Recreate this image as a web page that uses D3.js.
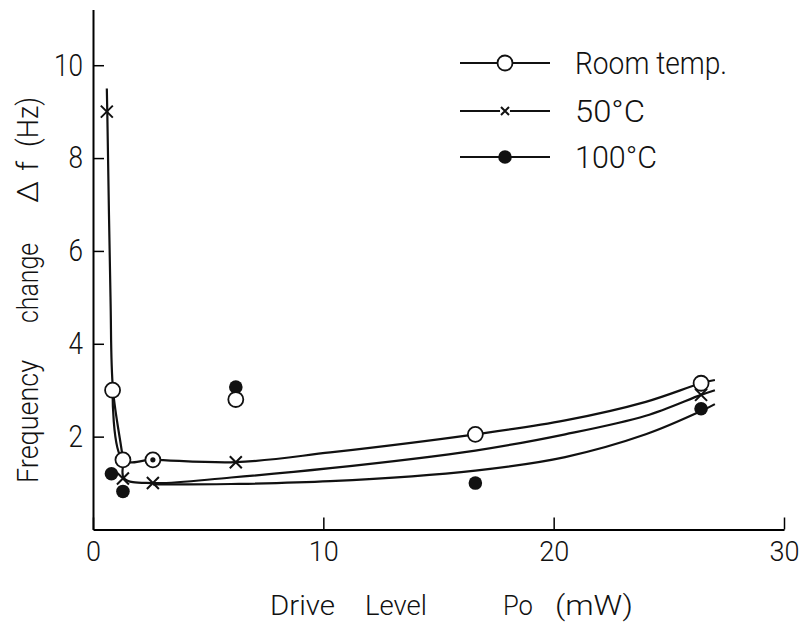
<!DOCTYPE html>
<html>
<head>
<meta charset="utf-8">
<script src="https://cdn.jsdelivr.net/npm/d3@7"></script>
<style>
  body { margin: 0; background: #fff; }
  text { font-family: Roboto, "Liberation Sans", Arial, sans-serif; font-weight: 300; fill: #111; }
</style>
</head>
<body>
<div id="chart"></div>
<script>
// measured points (Po in mW, delta f in Hz)
var roomPts = [[0.85, 3.0], [1.3, 1.5], [2.6, 1.5], [6.2, 2.8], [16.6, 2.05], [26.4, 3.15]];
var c50Pts = [[0.6, 9.0], [1.3, 1.1], [2.6, 1.0], [6.2, 1.45], [26.4, 2.9]];
var c100Pts = [[0.8, 1.2], [1.3, 0.82], [6.2, 3.07], [16.6, 1.0], [26.4, 2.6]];
// 100C point hidden inside the room temp. circle
var coincident = [[2.6, 1.5]];

// hand drawn fit curves
var roomCurve = [[0.85, 3.0], [1.3, 1.5], [2.6, 1.5], [6.2, 1.45], [10.3, 1.66], [16.6, 2.05], [20.5, 2.35], [24, 2.75], [26.4, 3.15], [27, 3.22]];
var c50Curve = [[0.6, 9.5], [0.62, 9.0], [0.76, 5.0], [0.87, 3.0], [1.3, 1.5], [1.35, 1.1], [2.6, 1.0], [6, 1.12], [10.3, 1.32], [16.6, 1.7], [20.5, 2.05], [24, 2.45], [26.4, 2.9], [27, 3.0]];
var c100Curve = [[2.6, 0.97], [6, 0.98], [10.3, 1.04], [16.6, 1.27], [20.5, 1.56], [24, 2.05], [26.4, 2.55], [27, 2.7]];

var xTicks = [0, 10, 20, 30];
var yTicks = [2, 4, 6, 8, 10];
var legendNames = ["Room temp.", "50°C", "100°C"];

var width = 805, height = 631;

var svg = d3.select("#chart")
  .append("svg")
    .attr("width", width)
    .attr("height", height);

var x = d3.scaleLinear()
  .domain([0, 30])
  .range([93, 784]);

var y = d3.scaleLinear()
  .domain([0, 11.2])
  .range([529.5, 9.5]);

// Y axis (ticks point inwards)
var yAxis = svg.append("g")
  .attr("transform", "translate(" + x(0) + ",0)")
  .call(d3.axisLeft(y).tickValues(yTicks).tickSizeInner(-11).tickSizeOuter(0).tickPadding(10));
yAxis.select(".domain").attr("stroke-width", 2);
yAxis.selectAll(".tick line").attr("stroke-width", 1.5);
yAxis.selectAll("text")
  .style("font-size", "31px")
  .attr("fill", "#111")
  .attr("textLength", function(d) { return String(d).length * 14.5; })
  .attr("lengthAdjust", "spacingAndGlyphs");

// X axis
var xAxis = svg.append("g")
  .attr("transform", "translate(0," + y(0) + ")")
  .call(d3.axisBottom(x).tickValues(xTicks).tickSizeInner(-12).tickSizeOuter(0).tickPadding(12));
xAxis.select(".domain").attr("stroke-width", 2);
xAxis.selectAll(".tick line").attr("stroke-width", 1.5);
xAxis.selectAll("text")
  .style("font-size", "27px")
  .attr("fill", "#111")
  .attr("textLength", function(d) { return String(d).length * 15; })
  .attr("lengthAdjust", "spacingAndGlyphs");

// curves
var line = d3.line()
  .x(function(d) { return x(d[0]); })
  .y(function(d) { return y(d[1]); })
  .curve(d3.curveCatmullRom.alpha(0.5));

svg.selectAll(".curve")
  .data([roomCurve, c50Curve, c100Curve])
  .enter()
  .append("path")
    .attr("class", "curve")
    .attr("d", line)
    .attr("fill", "none")
    .attr("stroke", "#111")
    .attr("stroke-width", 2.2);

// markers
function cross(sel, s) {
  sel.append("path")
    .attr("d", "M" + (-s) + "," + (-s) + "L" + s + "," + s + "M" + (-s) + "," + s + "L" + s + "," + (-s))
    .attr("stroke", "#111")
    .attr("stroke-width", 2)
    .attr("fill", "none");
}

svg.selectAll(".p50")
  .data(c50Pts)
  .enter()
  .append("g")
    .attr("class", "p50")
    .attr("transform", function(d) { return "translate(" + x(d[0]) + "," + y(d[1]) + ")"; })
    .each(function() { cross(d3.select(this), 6); });

svg.selectAll(".p100")
  .data(c100Pts)
  .enter()
  .append("circle")
    .attr("cx", function(d) { return x(d[0]); })
    .attr("cy", function(d) { return y(d[1]); })
    .attr("r", 6.8)
    .attr("fill", "#111");

svg.selectAll(".proom")
  .data(roomPts)
  .enter()
  .append("circle")
    .attr("cx", function(d) { return x(d[0]); })
    .attr("cy", function(d) { return y(d[1]); })
    .attr("r", 7.5)
    .attr("fill", "#fff")
    .attr("stroke", "#111")
    .attr("stroke-width", 1.8);

svg.selectAll(".pco")
  .data(coincident)
  .enter()
  .append("circle")
    .attr("cx", function(d) { return x(d[0]); })
    .attr("cy", function(d) { return y(d[1]); })
    .attr("r", 2.6)
    .attr("fill", "#111");

// legend
var legendW = [152, 70, 82];
var legend = svg.selectAll(".legend")
  .data(legendNames)
  .enter()
  .append("g")
    .attr("class", "legend")
    .attr("transform", function(d, i) { return "translate(460," + [63, 111, 157][i] + ")"; });

legend.append("line")
  .attr("x1", 0).attr("x2", 90)
  .attr("stroke", "#111")
  .attr("stroke-width", 2);

legend.each(function(d, i) {
  var g = d3.select(this);
  if (i == 0) {
    g.append("circle").attr("cx", 45).attr("r", 7.5).attr("fill", "#fff").attr("stroke", "#111").attr("stroke-width", 1.8);
  } else if (i == 1) {
    var m = g.append("g").attr("transform", "translate(45,0)");
    m.append("rect").attr("x", -5).attr("y", -5).attr("width", 10).attr("height", 10).attr("fill", "#fff");
    cross(m, 4);
  } else {
    g.append("circle").attr("cx", 45).attr("r", 6.8).attr("fill", "#111");
  }
});

legend.append("text")
  .attr("x", 115)
  .attr("dy", "0.36em")
  .style("font-size", "31px")
  .attr("textLength", function(d, i) { return legendW[i]; })
  .attr("lengthAdjust", "spacingAndGlyphs")
  .text(function(d) { return d; });

// axis titles: [text, start, length]
var xTitle = [["Drive", 270, 65], ["Level", 365, 62], ["Po", 503, 30], ["(mW)", 555, 78]];
svg.selectAll(".xtitle")
  .data(xTitle)
  .enter()
  .append("text")
    .attr("x", function(d) { return d[1]; })
    .attr("y", 615)
    .style("font-size", "27px")
    .attr("textLength", function(d) { return d[2]; })
    .attr("lengthAdjust", "spacingAndGlyphs")
    .text(function(d) { return d[0]; });

var yTitle = [["Frequency", 483, 123], ["change", 323, 80], ["Δ", 203, 22], ["f", 171, 10], ["(Hz)", 147, 50]];
svg.selectAll(".ytitle")
  .data(yTitle)
  .enter()
  .append("text")
    .attr("transform", function(d) { return "translate(38," + d[1] + ") rotate(-90)"; })
    .style("font-size", "30px")
    .attr("textLength", function(d) { return d[2]; })
    .attr("lengthAdjust", "spacingAndGlyphs")
    .text(function(d) { return d[0]; });
</script>
</body>
</html>
